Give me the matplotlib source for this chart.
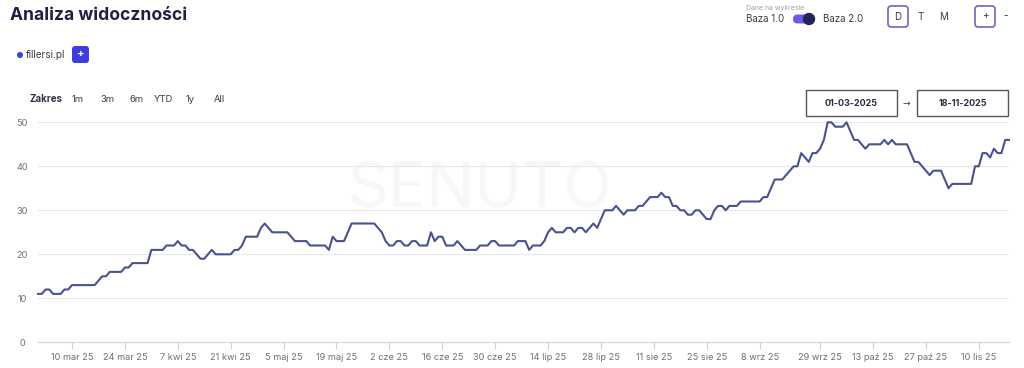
import numpy as np
import pandas as pd
import matplotlib
matplotlib.use("Agg")
import matplotlib.pyplot as plt
from matplotlib.patches import FancyBboxPatch, Circle
from matplotlib.transforms import Affine2D

plt.rcParams['font.family'] = ['Inter', 'DejaVu Sans']

# daily visibility for fillersi.pl, 1 Mar - 18 Nov 2025 (a few September days have no data)
missing_days = pd.to_datetime(["2025-09-15", "2025-09-16", "2025-09-17", "2025-09-18", "2025-09-19"])
dates = pd.date_range("2025-03-01", "2025-11-18", freq="D").difference(missing_days)

visibility = [
    11, 11, 12, 12, 11, 11, 11, 12, 12, 13, 13, 13, 13, 13, 13, 13, 14, 15, 15, 16,
    16, 16, 16, 17, 17, 18, 18, 18, 18, 18, 21, 21, 21, 21, 22, 22, 22, 23, 22, 22,
    21, 21, 20, 19, 19, 20, 21, 20, 20, 20, 20, 20, 21, 21, 22, 24, 24, 24, 24, 26,
    27, 26, 25, 25, 25, 25, 25, 24, 23, 23, 23, 23, 22, 22, 22, 22, 22, 21, 24, 23,
    23, 23, 25, 27, 27, 27, 27, 27, 27, 27, 26, 25, 23, 22, 22, 23, 23, 22, 22, 23,
    23, 22, 22, 22, 25, 23, 24, 24, 22, 22, 22, 23, 22, 21, 21, 21, 21, 22, 22, 22,
    23, 23, 22, 22, 22, 22, 22, 23, 23, 23, 21, 22, 22, 22, 23, 25, 26, 25, 25, 25,
    26, 26, 25, 26, 26, 25, 26, 27, 26, 28, 30, 30, 30, 31, 30, 29, 30, 30, 30, 31,
    31, 32, 33, 33, 33, 34, 33, 33, 31, 31, 30, 30, 29, 29, 30, 30, 29, 28, 28, 30,
    31, 31, 30, 31, 31, 31, 32, 32, 32, 32, 32, 32, 33, 33, 35, 37, 37, 37, 38, 39,
    40, 40, 43, 42, 41, 43, 43, 44, 46, 50, 50, 49, 49, 49, 50, 48, 46, 46, 45, 44,
    45, 45, 45, 45, 46, 45, 46, 45, 45, 45, 45, 43, 41, 41, 40, 39, 38, 39, 39, 39,
    37, 35, 36, 36, 36, 36, 36, 36, 40, 40, 43, 43, 42, 44, 43, 43, 46, 46,
]

tick_dates = pd.to_datetime([
    "2025-03-10", "2025-03-24", "2025-04-07", "2025-04-21", "2025-05-05", "2025-05-19",
    "2025-06-02", "2025-06-16", "2025-06-30", "2025-07-14", "2025-07-28", "2025-08-11",
    "2025-08-25", "2025-09-08", "2025-09-29", "2025-10-13", "2025-10-27", "2025-11-10",
])
tick_labels = ["10 mar 25", "24 mar 25", "7 kwi 25", "21 kwi 25", "5 maj 25", "19 maj 25",
               "2 cze 25", "16 cze 25", "30 cze 25", "14 lip 25", "28 lip 25", "11 sie 25",
               "25 sie 25", "8 wrz 25", "29 wrz 25", "13 paź 25", "27 paź 25", "10 lis 25"]
y_ticks = [0, 10, 20, 30, 40, 50]
range_buttons = ["1m", "3m", "6m", "YTD", "1y", "All"]

W, H = 1024, 368
fig = plt.figure(figsize=(W / 100, H / 100), dpi=100)
fig.patch.set_facecolor("white")
# pixel coordinates with origin at top-left
px = Affine2D().scale(1 / W, -1 / H).translate(0, 1) + fig.transFigure

# ordinal x axis: one slot per data point (Highstock style)
x = np.arange(len(dates))
ax = fig.add_axes([38 / W, 1 - 342.3 / H, (1009 - 38) / W, 220 / H])
ax.set_xlim(0, len(dates) - 1)
ax.set_ylim(0, 50)

ax.text(0.455, 0.69, "SENUTO", transform=ax.transAxes, fontsize=46, color="#f7f7f9",
        ha="center", va="center", fontweight="normal", zorder=0)

ax.plot(x, visibility, color="#4a5191", lw=1.5, solid_joinstyle="round", clip_on=False, zorder=3)

for v in y_ticks[1:]:
    ax.axhline(v, color="#e8e8ec", lw=0.8, zorder=1)
for s in ["top", "right", "left"]:
    ax.spines[s].set_visible(False)
ax.spines["bottom"].set_color("#cfd3dc")
ax.spines["bottom"].set_linewidth(0.8)

tick_pos = [dates.get_loc(d) for d in tick_dates]
ax.set_xticks(tick_pos)
ax.set_xticklabels(tick_labels)
ax.set_yticks(y_ticks)
ax.tick_params(axis="x", length=5, width=0.8, color="#cfd3dc", labelsize=6.6,
               labelcolor="#6e6e78", pad=3)
ax.tick_params(axis="y", length=0, labelsize=6.6, labelcolor="#6e6e78", pad=11.5)
for lbl in ax.get_yticklabels():
    lbl.set_horizontalalignment("center")

# header
fig.text(10, 15, "Analiza widoczności", transform=px, fontsize=12.6, fontweight="bold",
         color="#1f2142", va="center", ha="left")

# series legend
fig.add_artist(Circle((20, 55), 2.3, transform=px, color="#3b46d8"))
fig.text(26, 55, "fillersi.pl", transform=px, fontsize=7.2, color="#3a3a48", va="center")
fig.add_artist(FancyBboxPatch((72, 46), 17, 17, boxstyle="round,pad=0,rounding_size=3",
                              transform=px, fc="#3d3ddb", ec="none"))
fig.text(80.5, 54.5, "+", transform=px, fontsize=8, color="white", ha="center", va="center",
         fontweight="bold")

# range selector
fig.text(30, 99, "Zakres", transform=px, fontsize=7, fontweight="bold", color="#333340",
         va="center")
for lbl, xp in zip(range_buttons, [78, 108, 137, 163, 190, 219]):
    fig.text(xp, 99, lbl, transform=px, fontsize=6.8, color="#3a3a48", va="center", ha="center")

# top-right controls
fig.text(746, 8, "Dane na wykresie", transform=px, fontsize=5, color="#a0a0aa", va="center")
fig.text(746, 19, "Baza 1.0", transform=px, fontsize=7, color="#3a3a48", va="center")
fig.add_artist(FancyBboxPatch((793, 14.5), 20, 9, boxstyle="round,pad=0,rounding_size=4.5",
                              transform=px, fc="#6b5ce6", ec="none"))
fig.add_artist(Circle((809, 19), 5.5, transform=px, color="#23245a"))
fig.text(823, 19, "Baza 2.0", transform=px, fontsize=7, color="#3a3a48", va="center")

for (bx, lbl) in [(888, "D"), (975, "+")]:
    fig.add_artist(FancyBboxPatch((bx, 6), 20, 21, boxstyle="round,pad=0,rounding_size=3",
                                  transform=px, fc="white", ec="#6f63c4", lw=1.2))
    fig.text(bx + 10, 16.5, lbl, transform=px, fontsize=7, color="#3a3a48", ha="center",
             va="center")
fig.text(921, 16.5, "T", transform=px, fontsize=7, color="#3a3a48", ha="center", va="center")
fig.text(944, 16.5, "M", transform=px, fontsize=7, color="#3a3a48", ha="center", va="center")
fig.text(1006, 16.5, "-", transform=px, fontsize=7, color="#3a3a48", ha="center", va="center")

# date range inputs
for (bx, lbl) in [(806, dates[0].strftime("%d-%m-%Y")), (917, dates[-1].strftime("%d-%m-%Y"))]:
    fig.add_artist(FancyBboxPatch((bx, 90), 91, 26, boxstyle="square,pad=0",
                                  transform=px, fc="white", ec="#55555f", lw=1.0))
    fig.text(bx + 45.5, 103, lbl, transform=px, fontsize=6.5, fontweight="bold",
             color="#2c2c44", ha="center", va="center")
fig.text(906.5, 103, "→", transform=px, fontsize=6.5, color="#3a3a48", ha="center",
         va="center", family=["DejaVu Sans"])

fig.savefig("out.png", dpi=100, facecolor="white")
